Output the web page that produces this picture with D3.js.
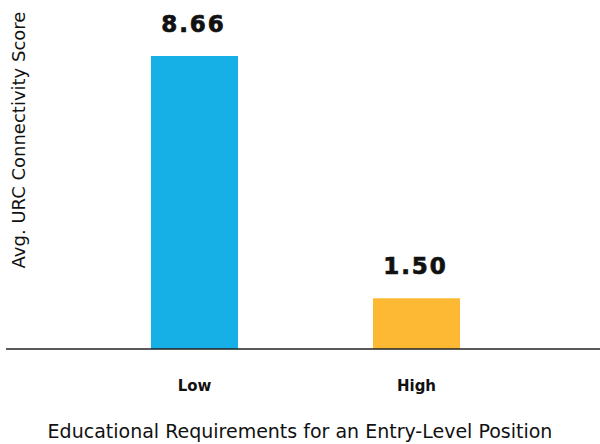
<!DOCTYPE html>
<html>
<head>
<meta charset="utf-8">
<script src="https://cdn.jsdelivr.net/npm/d3@7"></script>
<style>
  html, body { margin: 0; padding: 0; background: #fff; }
  svg { display: block; }
</style>
</head>
<body>
<svg id="chart" width="600" height="444"></svg>
<script>
// Average URC connectivity score by educational requirement level
const categories = ["Low", "High"];
const scores = [8.66, 1.50];
const barColors = ["#17b0e6", "#fdb933"];
const valueLabels = ["8.66", "1.50"];

const svg = d3.select("#chart");
const baseY = 349;

const x = d3.scaleBand()
  .domain(categories)
  .range([83.5, 527.5])
  .paddingInner(0.608)
  .paddingOuter(0.304);

const y = d3.scaleLinear()
  .domain([0, 8.66])
  .range([baseY, 56]);

const data = categories.map((c, i) => ({ cat: c, v: scores[i], color: barColors[i], label: valueLabels[i] }));

svg.selectAll("rect.bar")
  .data(data)
  .join("rect")
  .attr("class", "bar")
  .attr("x", d => x(d.cat))
  .attr("width", x.bandwidth())
  .attr("y", d => y(d.v))
  .attr("height", d => baseY - y(d.v))
  .attr("fill", d => d.color);

// value labels above bars (extra stroke for a heavier weight)
svg.selectAll("text.val")
  .data(data)
  .join("text")
  .attr("class", "val")
  .attr("x", d => x(d.cat) + x.bandwidth() / 2 - 1)
  .attr("y", d => y(d.v) - 24)
  .attr("text-anchor", "middle")
  .style("font-family", "'DejaVu Sans', sans-serif")
  .style("font-weight", 700)
  .style("font-size", "23px")
  .style("letter-spacing", "2px")
  .attr("fill", "#111")
  .attr("stroke", "#111")
  .attr("stroke-width", 0.7)
  .text(d => d.label);

// baseline
svg.append("line")
  .attr("x1", 6).attr("x2", 600)
  .attr("y1", baseY).attr("y2", baseY)
  .attr("stroke", "#222")
  .attr("stroke-width", 1.5);

// category axis
const xAxis = d3.axisBottom(x).tickSize(0).tickPadding(0);
const gx = svg.append("g")
  .attr("transform", `translate(0,${baseY})`)
  .call(xAxis);
gx.select(".domain").remove();
gx.selectAll("text")
  .attr("y", 42)
  .attr("dy", 0)
  .style("font-family", "'DejaVu Sans', sans-serif")
  .style("font-weight", 700)
  .style("font-size", "15px")
  .attr("fill", "#111");

// axis titles
svg.append("text")
  .attr("x", 300)
  .attr("y", 438)
  .attr("text-anchor", "middle")
  .style("font-family", "'DejaVu Sans', sans-serif")
  .style("font-size", "19px")
  .attr("fill", "#111")
  .text("Educational Requirements for an Entry-Level Position");

svg.append("text")
  .attr("transform", "translate(25,140) rotate(-90)")
  .attr("text-anchor", "middle")
  .style("font-family", "'DejaVu Sans', sans-serif")
  .style("font-size", "18px")
  .attr("fill", "#111")
  .text("Avg. URC Connectivity Score");
</script>
</body>
</html>
